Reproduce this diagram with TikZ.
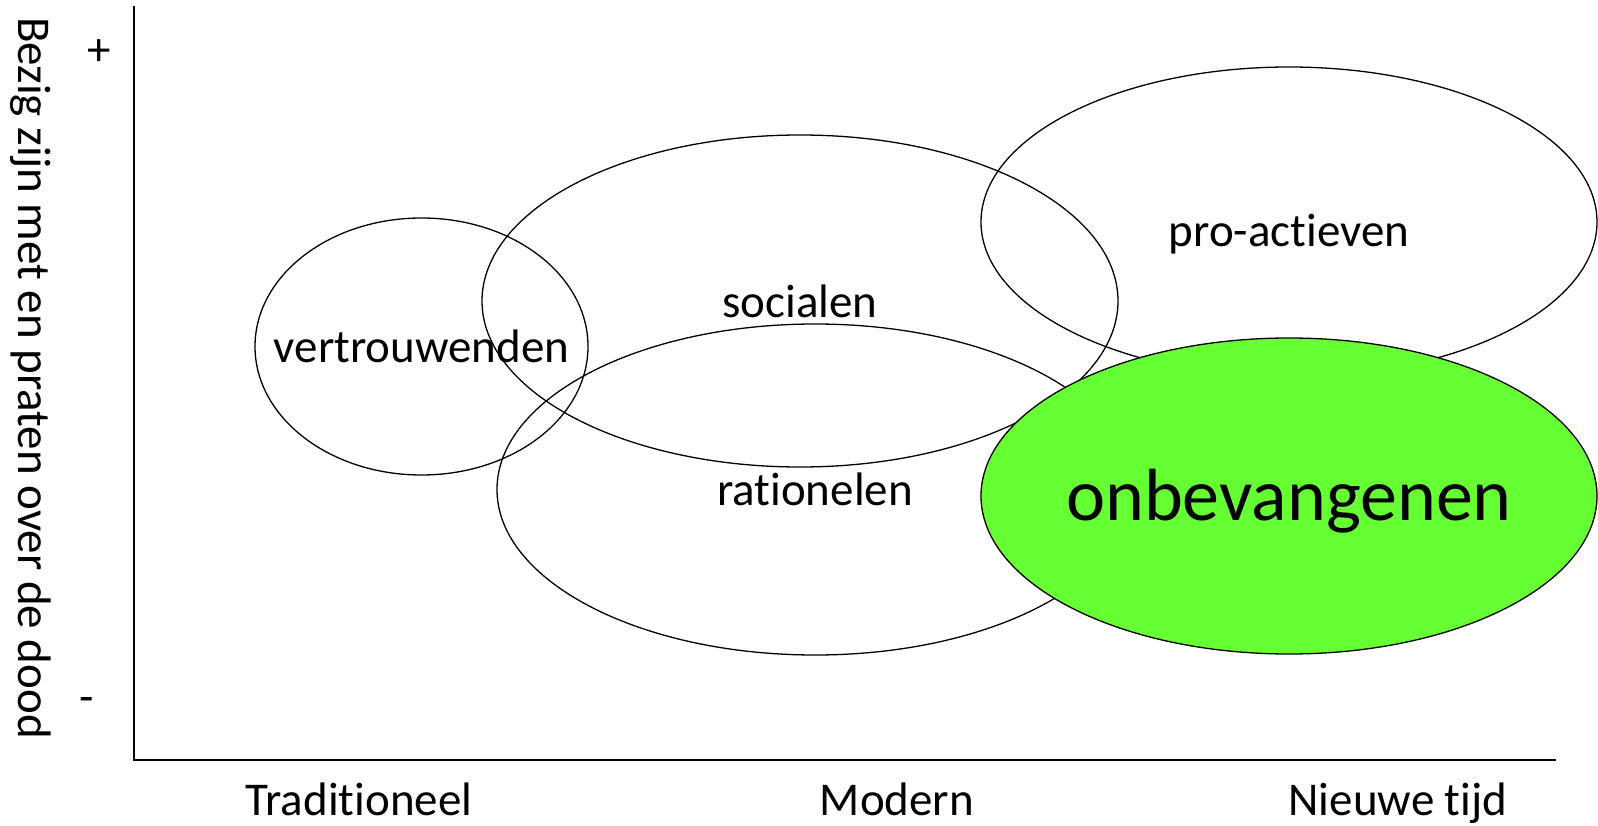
\documentclass[tikz,border=0pt]{standalone}
\usepackage{fontspec}
\setmainfont[Ligatures={NoCommon,NoContextual,NoRequired},Contextuals=NoAlternate]{Carlito}
\usepackage{tikz}
\usetikzlibrary{shapes.geometric}
\definecolor{freshgreen}{HTML}{66FF33}

\begin{document}
\begin{tikzpicture}[x=1pt,y=-1pt]

\tikzstyle{group}=[draw, ellipse, line width=1.3pt, inner sep=0pt, font=\fontsize{47}{56}\selectfont]
\tikzstyle{axis_line}=[draw, line width=2pt]
\tikzstyle{axis_label}=[inner sep=0pt, font=\fontsize{47}{56}\selectfont]

\useasboundingbox (0,0) rectangle (1598,826);

\coordinate (y_top) at (133.5,6);
\coordinate (origin) at (133.5,760);
\coordinate (x_end) at (1556,760);

\path[axis_line] (y_top) -- (origin) -- (x_end);

\node[axis_label, rotate=-90] (y_label) at (31,378) {Bezig zijn met en praten over de dood};
\node[axis_label] (high) at (99,53) {+};
\node[axis_label] (low) at (87,705) {-};

\node[axis_label, anchor=base] (traditioneel) at (359,815) {Traditioneel};
\node[axis_label, anchor=base] (modern) at (897,815) {Modern};
\node[axis_label, anchor=base] (nieuwe_tijd) at (1398,815) {Nieuwe tijd};

% text kept narrow so the ellipses keep their own size
\node[group, minimum width=333, minimum height=257] (vertrouwenden) at (421.5,346.5) {\makebox[0pt]{vertrouwenden}};
\node[group, minimum width=636, minimum height=332] (socialen) at (800,301) {\makebox[0pt]{socialen}};
\node[group, minimum width=636, minimum height=331] (rationelen) at (815,489.5) {\makebox[0pt]{rationelen}};
\node[group, minimum width=616, minimum height=310] (pro_actieven) at (1289,222) {\makebox[0pt]{\raisebox{-25pt}[0pt][0pt]{pro-actieven}}};
\node[group, minimum width=616, minimum height=316, fill=freshgreen, font=\fontsize{74}{88}\selectfont] (onbevangenen) at (1289,496) {\makebox[0pt]{\raisebox{-24pt}[0pt][0pt]{onbevangenen}}};

\end{tikzpicture}
\end{document}
